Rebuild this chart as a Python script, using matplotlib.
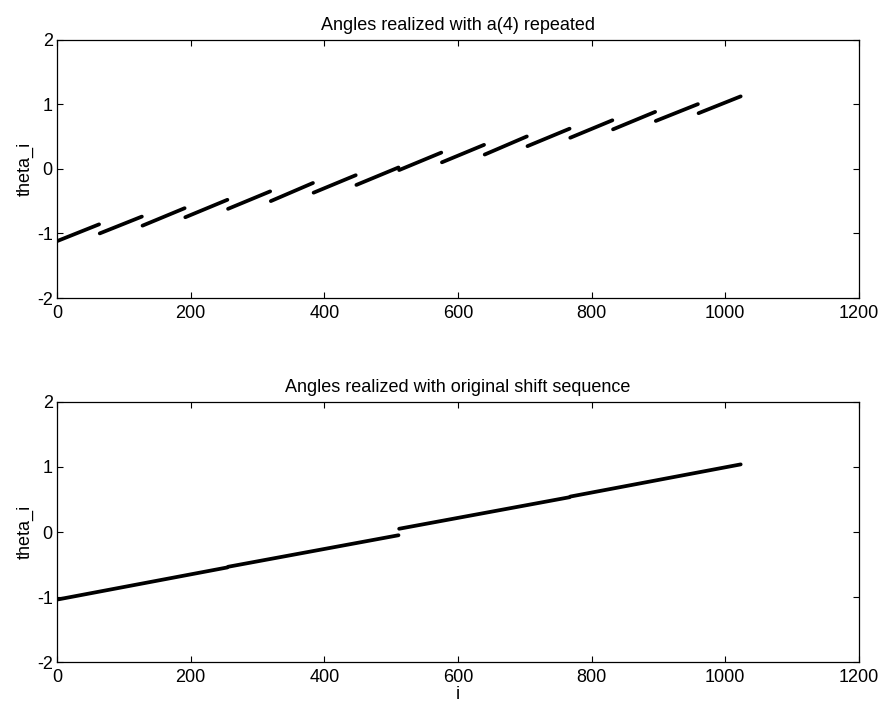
import numpy as np
import matplotlib
matplotlib.use('Agg')
from matplotlib import pyplot as plt

plt.rcParams['font.family'] = ['Liberation Sans', 'DejaVu Sans']
plt.rcParams['axes.unicode_minus'] = False

# top panel: 16 blocks of 64 samples, angle at first and last sample of each block
blk_len = 64
top_start = [-1.12, -1.00, -0.88, -0.75, -0.62, -0.50, -0.37, -0.25,
             -0.02, 0.10, 0.22, 0.35, 0.48, 0.61, 0.74, 0.86]
top_end = [-0.86, -0.74, -0.61, -0.48, -0.35, -0.22, -0.10, 0.02,
           0.25, 0.37, 0.50, 0.62, 0.75, 0.88, 1.00, 1.12]

# bottom panel: 4 quarters of 256 samples
q_len = 256
bot_start = [-1.04, -0.535, 0.05, 0.545]
bot_end = [-0.545, -0.05, 0.535, 1.04]

xticks = [0, 200, 400, 600, 800, 1000, 1200]
yticks = [-2, -1, 0, 1, 2]


def draw_blocks(ax, starts, ends, n):
    for k, (a, b) in enumerate(zip(starts, ends)):
        ax.plot([k * n, k * n + n - 1], [a, b], color='black', linewidth=2.7,
                solid_capstyle='round')


def style(ax, title):
    ax.set_xlim(0, 1200)
    ax.set_ylim(-2, 2)
    ax.set_xticks(xticks)
    ax.set_yticks(yticks)
    ax.tick_params(direction='in', top=True, right=True, length=4,
                   labelsize=13, width=0.8)
    ax.tick_params(axis='x', pad=5)
    ax.tick_params(axis='y', pad=3)
    ax.set_ylabel('theta_i', fontsize=13, labelpad=2)
    ax.set_title(title, fontsize=13, pad=7)
    for s in ax.spines.values():
        s.set_linewidth(0.9)


fig = plt.figure(figsize=(8.86, 7.13), dpi=100)
ax1 = fig.add_axes([0.0643, 0.582, 0.9052, 0.3626])
ax2 = fig.add_axes([0.0643, 0.0715, 0.9052, 0.3647])

draw_blocks(ax1, top_start, top_end, blk_len)
style(ax1, 'Angles realized with a(4) repeated')

draw_blocks(ax2, bot_start, bot_end, q_len)
style(ax2, 'Angles realized with original shift sequence')
ax2.set_xlabel('i', fontsize=13, labelpad=0)

fig.savefig('out.png', dpi=100)
